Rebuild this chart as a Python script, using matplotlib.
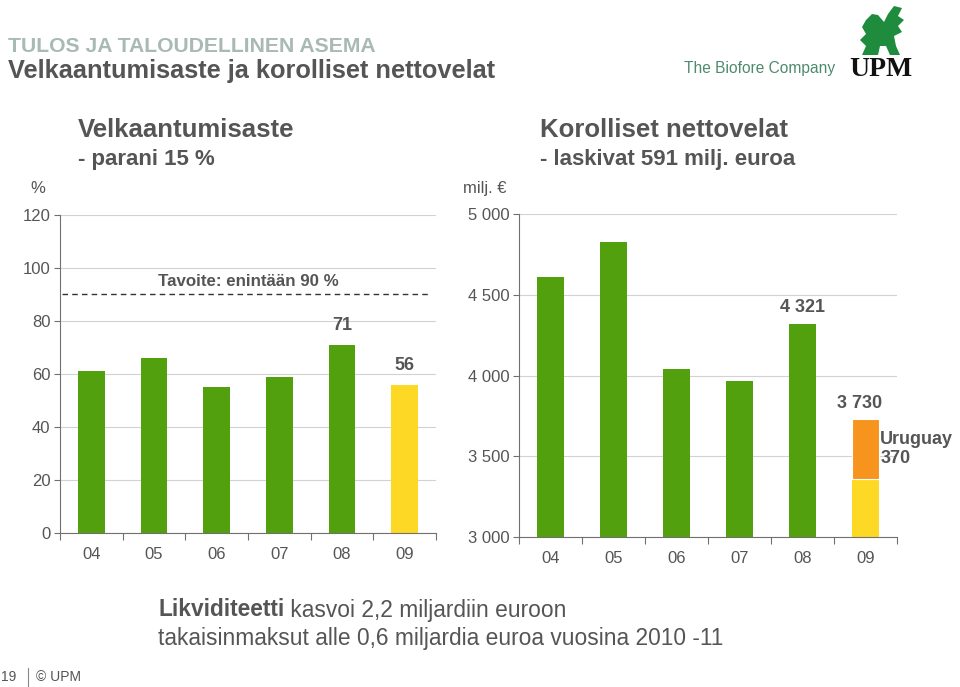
import numpy as np
import matplotlib
matplotlib.use("Agg")
import matplotlib.pyplot as plt
from matplotlib.patches import Polygon

plt.rcParams['font.family'] = ['Liberation Sans', 'DejaVu Sans']

# data
years = ['04', '05', '06', '07', '08', '09']
gearing = [61, 66, 55, 59, 71, 56]
gearing_target = 90
net_debt = [4609, 4826, 4040, 3966, 4321, 3730]
uruguay = 370

GREEN = '#52a00e'
YELLOW = '#fdd925'
ORANGE = '#f7941d'
GRAY = '#555555'
GRID = '#d2d2d2'
AXIS = '#707070'

fig = plt.figure(figsize=(9.6, 6.87), dpi=100)


def style_axes(ax):
    n = len(years)
    x = np.arange(n)
    ax.set_xlim(-0.5, n - 0.5)
    ax.set_xticks(np.arange(n + 1) - 0.5)
    ax.set_xticklabels([])
    ax.set_xticks(x, minor=True)
    ax.set_xticklabels(years, minor=True)
    ax.tick_params(axis='x', which='major', length=5, color=AXIS, direction='out')
    ax.tick_params(axis='x', which='minor', length=0, pad=10, labelsize=12, labelcolor=GRAY)
    ax.tick_params(axis='y', length=4, color=AXIS, labelsize=12, labelcolor=GRAY, pad=3)
    for s in ['top', 'right']:
        ax.spines[s].set_visible(False)
    for s in ['left', 'bottom']:
        ax.spines[s].set_color(AXIS)
        ax.spines[s].set_linewidth(0.8)
    ax.yaxis.grid(True, color=GRID, linewidth=0.8)
    ax.set_axisbelow(True)
    return x


# left chart: gearing
ax1 = fig.add_axes([0.0625, 0.2242, 0.3917, 0.4629])
x = style_axes(ax1)
ax1.set_ylim(0, 120)
ax1.set_yticks(np.arange(0, 121, 20))
cols = [GREEN] * (len(years) - 1) + [YELLOW]
ax1.bar(x, gearing, width=0.43, color=cols, zorder=2)
ax1.plot([-0.47, 5.4], [gearing_target, gearing_target], ls=(0, (4, 3)), color='#333333', lw=1, zorder=3)
ax1.text(2.5, gearing_target + 2, 'Tavoite: enintään 90 %', ha='center', va='bottom',
         fontsize=12.2, fontweight='bold', color=GRAY)
for i in [4, 5]:
    ax1.text(x[i], gearing[i] + 4, str(gearing[i]), ha='center', va='bottom',
             fontsize=13, fontweight='bold', color=GRAY)

# right chart: net debt
ax2 = fig.add_axes([0.5406, 0.2183, 0.394, 0.4702])
x = style_axes(ax2)
ax2.set_ylim(3000, 5000)
ax2.set_yticks(np.arange(3000, 5001, 500))
ax2.set_yticklabels([f'{v:,}'.replace(',', ' ') for v in np.arange(3000, 5001, 500)])
ax2.bar(x[:-1], net_debt[:-1], width=0.43, color=GREEN, zorder=2)
base09 = net_debt[-1] - uruguay
ax2.bar(x[-1], base09, width=0.43, color=YELLOW, zorder=2)
ax2.bar(x[-1], uruguay, bottom=base09, width=0.43, color=ORANGE, zorder=2,
        edgecolor='white', linewidth=0.8)
ax2.text(x[4], net_debt[4] + 45, '4 321', ha='center', va='bottom',
         fontsize=13, fontweight='bold', color=GRAY)
ax2.text(x[5] - 0.1, net_debt[5] + 45, '3 730', ha='center', va='bottom',
         fontsize=13, fontweight='bold', color=GRAY)
ax2.text(x[5] + 0.23, base09 + uruguay / 2, 'Uruguay\n370', ha='left', va='center',
         fontsize=13, fontweight='bold', color=GRAY, linespacing=1.1, clip_on=False)

# axis unit labels and chart titles
fig.text(30 / 960, 1 - 188 / 687, '%', fontsize=12, color=GRAY, va='center')
fig.text(463 / 960, 1 - 188 / 687, 'milj. €', fontsize=12, color=GRAY, va='center')
fig.text(78 / 960, 1 - 130 / 687, 'Velkaantumisaste', fontsize=18.5, fontweight='bold', color=GRAY, va='center')
fig.text(78 / 960, 1 - 160 / 687, '- parani 15 %', fontsize=16, fontweight='bold', color=GRAY, va='center')
fig.text(540 / 960, 1 - 130 / 687, 'Korolliset nettovelat', fontsize=18.5, fontweight='bold', color=GRAY, va='center')
fig.text(540 / 960, 1 - 160 / 687, '- laskivat 591 milj. euroa', fontsize=16, fontweight='bold', color=GRAY, va='center')

# header
fig.text(8 / 960, 1 - 47 / 687, 'TULOS JA TALOUDELLINEN ASEMA', fontsize=15.2, fontweight='bold',
         color='#a9b9b3', va='center')
fig.text(8 / 960, 1 - 71 / 687, 'Velkaantumisaste ja korolliset nettovelat', fontsize=18.3,
         fontweight='bold', color=GRAY, va='center')

# logo
fig.text(684 / 960, 1 - 69 / 687, 'The Biofore Company', fontsize=11.2, color='#4e8a6e', va='center')
fig.text(881 / 960, 1 - 70 / 687, 'UPM', fontsize=20, fontweight='bold', color='#111111',
         family='Liberation Serif', va='center', ha='center')
griffin = [(862, 55), (866, 46), (860, 40), (866, 34), (862, 27), (866, 20), (872, 14),
           (878, 15), (884, 22), (888, 14), (894, 6), (902, 8), (898, 16), (904, 20),
           (898, 26), (902, 32), (894, 36), (896, 46), (900, 55), (890, 55), (886, 46),
           (880, 46), (878, 55)]
fig.add_artist(Polygon([(px / 960, 1 - py / 687) for px, py in griffin], closed=True,
                       facecolor='#1e8c3c', edgecolor='none', transform=fig.transFigure))

# footer
t1 = fig.text(158 / 960, 1 - 610 / 687, 'Likviditeetti', fontsize=16.4, fontweight='bold', color=GRAY, va='center')
ax1.annotate(' kasvoi 2,2 miljardiin euroon', xy=(1, 0.5), xycoords=t1, va='center', ha='left',
             fontsize=16.4, color=GRAY, annotation_clip=False)
fig.text(158 / 960, 1 - 638 / 687, 'takaisinmaksut alle 0,6 miljardia euroa vuosina 2010 -11',
         fontsize=16.4, color=GRAY, va='center')
fig.text(1 / 960, 1 - 677 / 687, '19', fontsize=10, color=GRAY, va='center')
fig.add_artist(plt.Line2D([28 / 960, 28 / 960], [1 - 668 / 687, 1 - 687 / 687], color='#888888', lw=0.8))
fig.text(36 / 960, 1 - 677 / 687, '© UPM', fontsize=10, color=GRAY, va='center')

fig.savefig('out.png', dpi=100)
